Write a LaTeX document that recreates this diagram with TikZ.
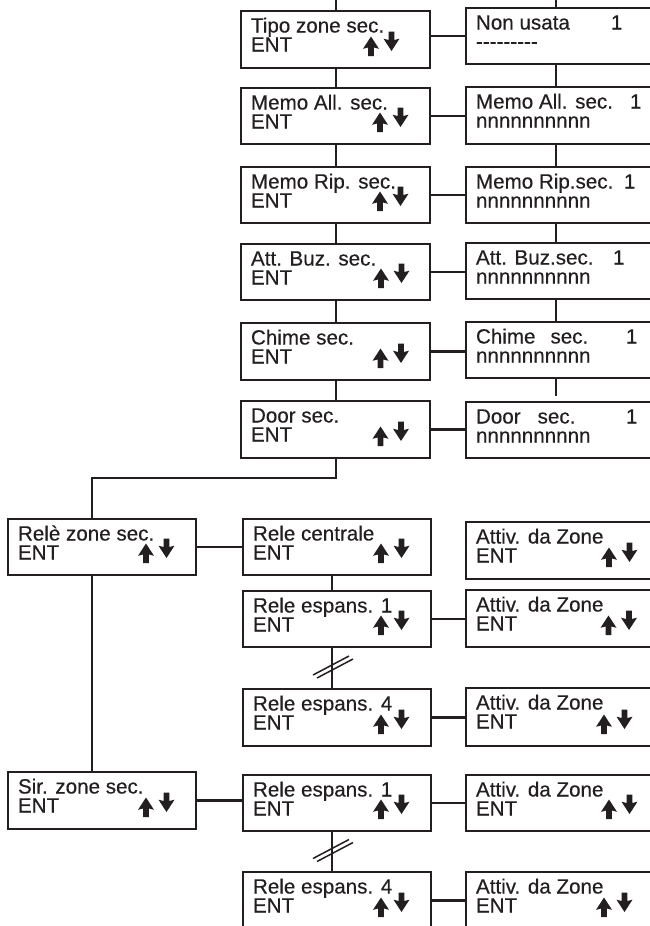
\documentclass[tikz,border=0pt]{standalone}
\usepackage{fontspec}
\setmainfont{Liberation Sans}
\newfontfamily\boxfont{Liberation Sans}[FakeBold=0.4]
\usetikzlibrary{calc}
\definecolor{ink}{RGB}{35,31,32}
% box text: width, height, line 1, line 2
\newcommand\bt[4]{\vbox to #2pt{\offinterlineskip\kern21.5pt
  \hbox to #1pt{\kern10pt\smash{#3}\hss}\kern19pt
  \hbox to #1pt{\kern10pt\smash{#4}\hss}\vss}}
\newcommand\hy{-\kern0pt}
\tikzset{
  box/.style={draw=ink, text=ink, line width=2.6pt, inner sep=0pt, outer sep=0pt,
    anchor=north west, font=\boxfont\fontsize{20.6}{19}\selectfont},
  conn/.style={draw=ink, line width=2.2pt},
  brk/.style={draw=ink, line width=1.5pt},
  updn/.pic={
    \fill[ink] (135.2,-12) -- (135.2,-20.5) -- (130,-19.2) -- (138,-31.5) -- (146,-19.2) -- (140.8,-20.5) -- (140.8,-12) -- cycle;
    \fill[ink] (155.7,-36.5) -- (155.7,-28) -- (150.5,-29.3) -- (158.5,-17) -- (166.5,-29.3) -- (161.3,-28) -- (161.3,-36.5) -- cycle;
  }
}
\begin{document}
\begin{tikzpicture}[x=1pt,y=-1pt]
\useasboundingbox (0,0) rectangle (650,926);
\clip (0,0) rectangle (650,926);
\coordinate (ca) at (336,-4);
\coordinate (cb) at (556,-4);
\coordinate (cc) at (332,0);
\coordinate (cd) at (92,0);
\coordinate (cj) at (336,478);
% upper left column
\node[box] (tz) at (241,11)  {\bt{189}{57}{Tipo zone sec.}{ENT}};
\node[box] (ma) at (241,88)  {\bt{189}{56}{Memo All. sec.}{ENT}};
\node[box] (mr) at (241,167) {\bt{189}{56}{Memo Rip. sec.}{ENT}};
\node[box] (ab) at (241,244) {\bt{189}{56}{Att. Buz. sec.}{ENT}};
\node[box] (ch) at (241,323) {\bt{189}{57}{Chime sec.}{ENT}};
\node[box] (dr) at (241,401) {\bt{189}{57}{Door sec.}{ENT}};
% upper right column
\node[box] (nu)  at (466,8)   {\bt{200}{56}{\makebox[135pt][l]{Non usata}1}{\hy\hy\hy\hy\hy\hy\hy\hy-}};
\node[box] (ma2) at (466,87)  {\bt{200}{57}{\makebox[154pt][l]{Memo All. sec.}1}{nnnnnnnnnn}};
\node[box] (mr2) at (466,167) {\bt{200}{56}{\makebox[148pt][l]{Memo Rip.sec.}1}{nnnnnnnnnn}};
\node[box] (ab2) at (466,243) {\bt{200}{56}{\makebox[137pt][l]{Att. Buz.sec.}1}{nnnnnnnnnn}};
\node[box] (ch2) at (466,322) {\bt{200}{56}{\makebox[150pt][l]{Chime\hspace{15pt}sec.}1}{nnnnnnnnnn}};
\node[box] (dr2) at (466,402) {\bt{200}{56}{\makebox[150pt][l]{Door\hspace{17pt}sec.}1}{nnnnnnnnnn}};
% lower part
\node[box] (rz)   at (8,519)   {\bt{188}{56}{Relè zone sec.}{ENT}};
\node[box] (rc)   at (243,519) {\bt{188}{56}{Rele centrale}{ENT}};
\node[box] (az0)  at (466,522) {\bt{200}{57}{Attiv. da Zone}{ENT}};
\node[box] (re1)  at (243,591) {\bt{188}{56}{Rele espans. 1}{ENT}};
\node[box] (az1)  at (466,590) {\bt{200}{57}{Attiv. da Zone}{ENT}};
\node[box] (re4)  at (243,689) {\bt{188}{57}{Rele espans. 4}{ENT}};
\node[box] (az4)  at (466,688) {\bt{200}{58}{Attiv. da Zone}{ENT}};
\node[box] (sz)   at (8,772)   {\bt{188}{57}{Sir. zone sec.}{ENT}};
\node[box] (re1b) at (243,775) {\bt{188}{56}{Rele espans. 1}{ENT}};
\node[box] (az1b) at (466,775) {\bt{200}{56}{Attiv. da Zone}{ENT}};
\node[box] (re4b) at (243,872) {\bt{188}{57}{Rele espans. 4}{ENT}};
\node[box] (az4b) at (466,872) {\bt{200}{57}{Attiv. da Zone}{ENT}};
% up/down arrows
\pic at ($(tz.south west)+(-8,0)$) {updn};
\pic at ($(ma.south west)+(1,0)$) {updn};
\pic at ($(mr.south west)+(1,0)$) {updn};
\pic at ($(ab.south west)+(2,0)$) {updn};
\pic at ($(ch.south west)+(1.5,0)$) {updn};
\pic at ($(dr.south west)+(1.5,0)$) {updn};
\pic at (rz.south west) {updn};
\pic at (rc.south west) {updn};
\pic at ($(az0.south west)+(5,0)$) {updn};
\pic at (re1.south west) {updn};
\pic at ($(az1.south west)+(4.5,0)$) {updn};
\pic at (re4.south west) {updn};
\pic at (az4.south west) {updn};
\pic at (sz.south west) {updn};
\pic at (re1b.south west) {updn};
\pic at ($(az1b.south west)+(5,0)$) {updn};
\pic at (re4b.south west) {updn};
\pic at (az4b.south west) {updn};
% vertical connectors, left column
\draw[conn] (tz.north -| ca) -- (ca);
\draw[conn] (tz.south -| ca) -- (ma.north -| ca);
\draw[conn] (ma.south -| ca) -- (mr.north -| ca);
\draw[conn] (mr.south -| ca) -- (ab.north -| ca);
\draw[conn] (ab.south -| ca) -- (ch.north -| ca);
\draw[conn] (ch.south -| ca) -- (dr.north -| ca);
\draw[conn] (dr.south -| ca) -- (cj) -- (cj -| cd) -- (rz.north -| cd);
\draw[conn] (rz.south -| cd) -- (sz.north -| cd);
% vertical connectors, right column
\draw[conn] (nu.north -| cb) -- (cb);
\draw[conn] (nu.south -| cb) -- (ma2.north -| cb);
\draw[conn] (ma2.south -| cb) -- (mr2.north -| cb);
\draw[conn] (mr2.south -| cb) -- (ab2.north -| cb);
\draw[conn] (ab2.south -| cb) -- (ch2.north -| cb);
\draw[conn] (ch2.south -| cb) -- ++(0,18);
% horizontal connectors
\draw[conn] (nu.west) -- (nu.west -| tz.east);
\draw[conn] (ma.east) -- (ma.east -| ma2.west);
\draw[conn] (mr.east) -- (mr.east -| mr2.west);
\draw[conn] (ab.east) -- (ab.east -| ab2.west);
\draw[conn] (ch.east) -- (ch.east -| ch2.west);
\draw[conn] (dr.east) -- (dr.east -| dr2.west);
\draw[conn] (rz.east) -- (rz.east -| rc.west);
\draw[conn] (re1.east) -- (re1.east -| az1.west);
\draw[conn] (re4.east) -- (re4.east -| az4.west);
\draw[conn] (sz.east) -- (sz.east -| re1b.west);
\draw[conn] (re1b.east) -- (re1b.east -| az1b.west);
\draw[conn] (re4b.east) -- (re4b.east -| az4b.west);
% relay column verticals with break marks
\draw[conn] (rc.south -| cc) -- (re1.north -| cc);
\draw[conn] (re1.south -| cc) -- (re4.north -| cc);
\draw[conn] (re1b.south -| cc) -- (re4b.north -| cc);
\coordinate (m1) at ($(re1.south -| cc)!0.5!(re4.north -| cc)$);
\coordinate (m2) at ($(re1b.south -| cc)!0.5!(re4b.north -| cc)$);
\draw[brk] ($(m1)+(-19,7)$) -- ($(m1)+(17,-12)$);
\draw[brk] ($(m1)+(-15,10)$) -- ($(m1)+(21,-9)$);
\draw[brk] ($(m2)+(-19,7)$) -- ($(m2)+(17,-12)$);
\draw[brk] ($(m2)+(-15,10)$) -- ($(m2)+(21,-9)$);
\end{tikzpicture}
\end{document}
